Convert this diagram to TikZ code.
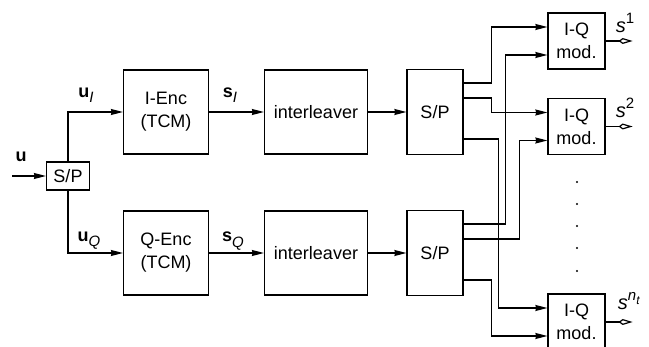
\documentclass[tikz,border=0pt]{standalone}
\usepackage{fontspec}
\setmainfont{Liberation Sans}
\usetikzlibrary{arrows.meta}
\newcommand{\subsc}[1]{\raisebox{-2.6pt}{\fontsize{7.5}{8}\selectfont\textit{#1}}}
\newcommand{\supsc}[1]{\raisebox{4.2pt}{\fontsize{7.5}{8}\selectfont #1}}
\begin{document}
\begin{tikzpicture}[x=0.5pt,y=-0.5pt, line width=0.6pt,
  font=\fontsize{9}{11.5}\selectfont,
  blk/.style={draw, inner sep=0pt, align=center},
  arr/.style={-{Stealth[length=6pt,width=3pt,inset=0.4pt]}},
  outarr/.style={-{Kite[open,length=7pt,width=3pt,inset=2pt]}},
  lbl/.style={inner sep=0pt},
  slbl/.style={inner sep=0pt, font=\fontsize{10}{12}\selectfont}]
\useasboundingbox (0,0) rectangle (649,347);
\clip (0,0) rectangle (649,347);
% blocks
\node[blk, minimum width=21.5pt, minimum height=14pt] (sp0) at (68,176) {S/P};
\node[blk, minimum width=42.5pt, minimum height=42pt] (encI) at (166,112) {I-Enc\\(TCM)};
\node[blk, minimum width=42.5pt, minimum height=42pt] (encQ) at (166,253) {Q-Enc\\(TCM)};
\node[blk, minimum width=51.5pt, minimum height=42pt] (intI) at (316,112) {interleaver};
\node[blk, minimum width=51.5pt, minimum height=42pt] (intQ) at (316,253) {interleaver};
\node[blk, minimum width=28pt, minimum height=42.5pt] (spI) at (435,112) {S/P};
\node[blk, minimum width=28pt, minimum height=42.5pt] (spQ) at (435,253) {S/P};
\node[blk, minimum width=28.5pt, minimum height=28pt] (mod1) at (576.5,41) {I-Q\\mod.};
\node[blk, minimum width=28.5pt, minimum height=28pt] (mod2) at (576.5,126.5) {I-Q\\mod.};
\node[blk, minimum width=28.5pt, minimum height=28pt] (mod3) at (576.5,322) {I-Q\\mod.};
% input
\coordinate (uin) at (12,176);
\draw[arr] (uin) -- (sp0.west);
\draw[arr] (sp0.north) |- (encI.west);
\draw[arr] (sp0.south) |- (encQ.west);
\draw[arr] (encI) -- (intI);
\draw[arr] (encQ) -- (intQ);
\draw[arr] (intI) -- (spI);
\draw[arr] (intQ) -- (spQ);
% S/P outputs
\draw[arr] ([yshift=14.5pt]spI.east) -- ++(28,0) |- ([yshift=7pt]mod1.west);
\draw[arr] ([yshift=7pt]spI.east) -- ++(28,0) |- ([yshift=7pt]mod2.west);
\draw[arr] ([yshift=-13.5pt]spI.east) -- ++(35,0) |- ([yshift=7pt]mod3.west);
\draw[arr] ([yshift=14.5pt]spQ.east) -- ++(42,0) |- ([yshift=-7pt]mod1.west);
\draw[arr] ([yshift=7pt]spQ.east) -- ++(56,0) |- ([yshift=-7pt]mod2.west);
\draw[arr] ([yshift=-13.5pt]spQ.east) -- ++(28,0) |- ([yshift=-7pt]mod3.west);
% outputs
\draw[outarr] (mod1.east) -- ++(27,0);
\draw[outarr] (mod2.east) -- ++(27,0);
\draw[outarr] (mod3.east) -- ++(27,0);
% labels
\node[lbl] (lu) at (21,157) {\textbf{u}};
\node[lbl] (luI) at (86,95) {\textbf{u}\subsc{I}};
\node[lbl] (luQ) at (89,241) {\textbf{u}\subsc{Q}};
\node[lbl] (lsI) at (230,95) {\textbf{s}\subsc{I}};
\node[lbl] (lsQ) at (233,241) {\textbf{s}\subsc{Q}};
\node[slbl] (ls1) at (625,23) {\textit{s}\supsc{1}};
\node[slbl] (ls2) at (625,108) {\textit{s}\supsc{2}};
\node[slbl] (ls3) at (629,301) {\textit{s}\supsc{\textit{n}\raisebox{-1.8pt}{\fontsize{6}{7}\selectfont\textit{t}}}};
% dots
\foreach \yy in {182,204,226,248,271} \fill (577,\yy) circle (0.6pt);
\end{tikzpicture}
\end{document}
